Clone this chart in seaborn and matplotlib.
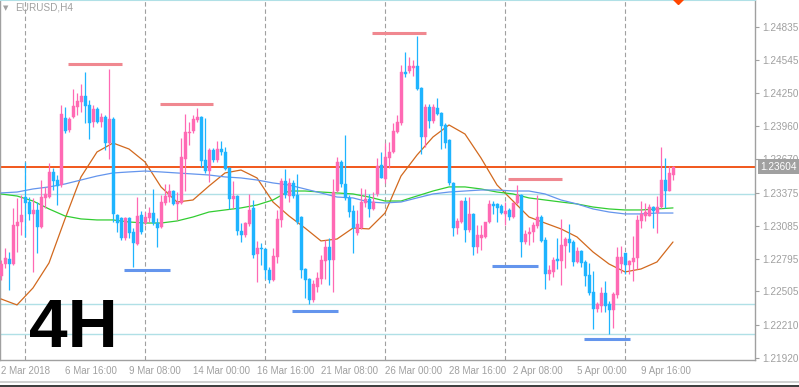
import numpy as np
import pandas as pd
import matplotlib
matplotlib.use("Agg")
import matplotlib.pyplot as plt
import matplotlib.transforms as mtransforms
from matplotlib.patches import Rectangle
import seaborn as sns

sns.set_style("white")
plt.rcParams["font.family"] = ["Liberation Sans", "DejaVu Sans"]

# EURUSD H4 bars, 2 Mar 2018 00:00 -> 10 Apr 2018
opens = [1.22641, 1.22747, 1.22791, 1.22747, 1.23082, 1.23117, 1.23337, 1.23293, 1.23188, 1.23223,
         1.23073, 1.23329, 1.23337, 1.23558, 1.23487, 1.23443, 1.24033, 1.23928, 1.24042, 1.24130,
         1.24174, 1.24227, 1.24148, 1.23998, 1.24113, 1.23998, 1.24042, 1.23813, 1.24025, 1.23179,
         1.23152, 1.22976, 1.23152, 1.23029, 1.22923, 1.23179, 1.23108, 1.23152, 1.23196, 1.23108,
         1.23073, 1.23285, 1.23337, 1.23390, 1.23276, 1.23285, 1.23672, 1.23901, 1.23919, 1.24016,
         1.24042, 1.23663, 1.23566, 1.23752, 1.23663, 1.23760, 1.23734, 1.23593, 1.23320, 1.23346,
         1.23038, 1.23003, 1.23100, 1.23241, 1.22835, 1.22888, 1.22879, 1.22694, 1.22606, 1.22809,
         1.23135, 1.23478, 1.23346, 1.23461, 1.23355, 1.23161, 1.22703, 1.22615, 1.22430, 1.22545,
         1.22615, 1.22774, 1.22897, 1.22782, 1.23390, 1.23646, 1.23452, 1.23329, 1.23214, 1.23020,
         1.23064, 1.23285, 1.23320, 1.23232, 1.23364, 1.23619, 1.23496, 1.23681, 1.23734, 1.23910,
         1.23989, 1.24439, 1.24447, 1.24474, 1.24492, 1.24298, 1.23866, 1.24130, 1.24007, 1.24122,
         1.24077, 1.23972, 1.23840, 1.23461, 1.23064, 1.23117, 1.23302, 1.23047, 1.23188, 1.22897,
         1.22976, 1.22985, 1.23117, 1.23276, 1.23276, 1.23258, 1.23188, 1.23223, 1.23161, 1.23285,
         1.23355, 1.22941, 1.23011, 1.23029, 1.23082, 1.23161, 1.22959, 1.22659, 1.22677, 1.22791,
         1.22774, 1.22906, 1.22968, 1.22941, 1.22765, 1.22862, 1.22765, 1.22650, 1.22501, 1.22351,
         1.22377, 1.22492, 1.22395, 1.22342, 1.22474, 1.22747, 1.22844, 1.22738, 1.22765, 1.22800,
         1.23126, 1.23170, 1.23170, 1.23249, 1.23196, 1.23249, 1.23487, 1.23390, 1.23531]
highs = [1.22782, 1.22888, 1.22853, 1.23241, 1.23329, 1.23355, 1.23646, 1.23337, 1.23329, 1.23293,
         1.23487, 1.23426, 1.23637, 1.23593, 1.23531, 1.24148, 1.24130, 1.24042, 1.24289, 1.24254,
         1.24333, 1.24439, 1.24192, 1.24148, 1.24130, 1.24077, 1.24060, 1.24465, 1.24042, 1.23188,
         1.23161, 1.23161, 1.23161, 1.23064, 1.23337, 1.23214, 1.23205, 1.23249, 1.23408, 1.23152,
         1.23355, 1.23452, 1.23452, 1.23399, 1.23381, 1.23857, 1.24069, 1.23998, 1.24060, 1.24122,
         1.24051, 1.24033, 1.23769, 1.23769, 1.23831, 1.23831, 1.23778, 1.23602, 1.23478, 1.23355,
         1.23108, 1.23117, 1.23364, 1.23311, 1.22950, 1.22932, 1.22888, 1.22721, 1.22888, 1.23223,
         1.23505, 1.23584, 1.23505, 1.23487, 1.23540, 1.23170, 1.22712, 1.22624, 1.22606, 1.22677,
         1.22826, 1.22959, 1.22976, 1.23496, 1.23690, 1.23663, 1.23884, 1.23355, 1.23267, 1.23223,
         1.23417, 1.23408, 1.23364, 1.23381, 1.23681, 1.23734, 1.23813, 1.23822, 1.23989, 1.24060,
         1.24500, 1.24615, 1.24571, 1.24544, 1.24756, 1.24307, 1.24157, 1.24157, 1.24157, 1.24210,
         1.24086, 1.23989, 1.23848, 1.23470, 1.23152, 1.23311, 1.23337, 1.23337, 1.23196, 1.23091,
         1.23091, 1.23117, 1.23311, 1.23302, 1.23285, 1.23276, 1.23293, 1.23241, 1.23293, 1.23443,
         1.23364, 1.23047, 1.23073, 1.23117, 1.23355, 1.23179, 1.22985, 1.22738, 1.22809, 1.22976,
         1.23144, 1.22985, 1.23100, 1.22959, 1.22897, 1.22871, 1.22782, 1.22756, 1.22685, 1.22412,
         1.22545, 1.22597, 1.22421, 1.22501, 1.22897, 1.22906, 1.22844, 1.22782, 1.22994, 1.23179,
         1.23302, 1.23285, 1.23276, 1.23258, 1.23346, 1.23778, 1.23681, 1.23611, 1.23611]
lows = [1.22606, 1.22712, 1.22518, 1.22738, 1.22853, 1.23003, 1.22985, 1.23135, 1.22677, 1.22844,
        1.23064, 1.23241, 1.23329, 1.23399, 1.23267, 1.23426, 1.23901, 1.23910, 1.24033, 1.24060,
        1.24086, 1.23989, 1.23848, 1.23954, 1.23989, 1.23954, 1.23752, 1.23672, 1.23117, 1.23029,
        1.22959, 1.22959, 1.22976, 1.22721, 1.22915, 1.23011, 1.23091, 1.23117, 1.23091, 1.22897,
        1.23064, 1.23267, 1.23293, 1.23267, 1.23135, 1.23276, 1.23390, 1.23796, 1.23901, 1.23998,
        1.23602, 1.23549, 1.23470, 1.23646, 1.23646, 1.23707, 1.23575, 1.23232, 1.23241, 1.23003,
        1.22941, 1.22985, 1.23082, 1.22800, 1.22589, 1.22738, 1.22615, 1.22580, 1.22597, 1.22756,
        1.23073, 1.23329, 1.23293, 1.23329, 1.23100, 1.22624, 1.22448, 1.22395, 1.22412, 1.22501,
        1.22571, 1.22615, 1.22562, 1.22501, 1.23381, 1.23426, 1.23311, 1.23161, 1.22844, 1.23003,
        1.23056, 1.23249, 1.23161, 1.23223, 1.23346, 1.23505, 1.23461, 1.23593, 1.23725, 1.23901,
        1.23972, 1.24395, 1.24430, 1.24403, 1.24280, 1.23716, 1.23778, 1.23945, 1.23989, 1.24060,
        1.23760, 1.23769, 1.23443, 1.22994, 1.23011, 1.23108, 1.22941, 1.23029, 1.22826, 1.22844,
        1.22871, 1.22976, 1.23108, 1.23188, 1.23117, 1.23188, 1.23091, 1.23135, 1.23152, 1.23276,
        1.22809, 1.22923, 1.22915, 1.22941, 1.23064, 1.22941, 1.22527, 1.22606, 1.22633, 1.22703,
        1.22562, 1.22712, 1.22853, 1.22730, 1.22756, 1.22721, 1.22553, 1.22474, 1.22175, 1.22324,
        1.22324, 1.22324, 1.22130, 1.22183, 1.22448, 1.22668, 1.22659, 1.22659, 1.22597, 1.22703,
        1.23064, 1.23126, 1.23170, 1.23064, 1.23020, 1.23241, 1.23241, 1.23390, 1.23487]
closes = [1.22747, 1.22800, 1.22747, 1.23091, 1.23117, 1.23179, 1.23285, 1.23188, 1.23223, 1.23073,
          1.23337, 1.23364, 1.23558, 1.23478, 1.23434, 1.24069, 1.23919, 1.24025, 1.24139, 1.24183,
          1.24227, 1.24139, 1.23989, 1.24113, 1.23998, 1.24042, 1.23813, 1.24025, 1.23188, 1.23108,
          1.22976, 1.23152, 1.23020, 1.22932, 1.23170, 1.23029, 1.23161, 1.23196, 1.23108, 1.23064,
          1.23293, 1.23346, 1.23390, 1.23276, 1.23293, 1.23690, 1.23910, 1.23910, 1.24025, 1.24042,
          1.23655, 1.23566, 1.23752, 1.23663, 1.23760, 1.23734, 1.23584, 1.23320, 1.23346, 1.23038,
          1.23003, 1.23108, 1.23223, 1.22826, 1.22888, 1.22879, 1.22694, 1.22606, 1.22818, 1.23144,
          1.23478, 1.23355, 1.23461, 1.23346, 1.23117, 1.22694, 1.22606, 1.22430, 1.22571, 1.22624,
          1.22782, 1.22897, 1.22782, 1.23381, 1.23646, 1.23452, 1.23329, 1.23205, 1.23064, 1.23100,
          1.23293, 1.23320, 1.23232, 1.23293, 1.23611, 1.23505, 1.23690, 1.23734, 1.23919, 1.23998,
          1.24439, 1.24421, 1.24492, 1.24492, 1.24289, 1.23866, 1.24130, 1.24007, 1.24130, 1.24069,
          1.23963, 1.23813, 1.23461, 1.23064, 1.23126, 1.23302, 1.23047, 1.23188, 1.22897, 1.23003,
          1.23003, 1.23117, 1.23276, 1.23258, 1.23241, 1.23196, 1.23214, 1.23161, 1.23285, 1.23355,
          1.22941, 1.23011, 1.23029, 1.23091, 1.23161, 1.22950, 1.22659, 1.22694, 1.22782, 1.22774,
          1.22915, 1.22968, 1.22932, 1.22765, 1.22862, 1.22756, 1.22641, 1.22492, 1.22351, 1.22395,
          1.22492, 1.22377, 1.22342, 1.22483, 1.22809, 1.22809, 1.22738, 1.22774, 1.22800, 1.23135,
          1.23188, 1.23205, 1.23249, 1.23214, 1.23249, 1.23487, 1.23390, 1.23549, 1.23602]

# moving averages read every 4 bars
ma_bars = list(range(0, 169, 4))
ma_orange = [1.22439, 1.22386, 1.22536, 1.22756, 1.23144, 1.23514, 1.23734, 1.23813, 1.23760, 1.23646,
             1.23426, 1.23293, 1.23311, 1.23434, 1.23549, 1.23575, 1.23505, 1.23293, 1.23170, 1.23064,
             1.22950, 1.22967, 1.23064, 1.23056, 1.23196, 1.23522, 1.23707, 1.23866, 1.23972, 1.23892,
             1.23681, 1.23443, 1.23302, 1.23161, 1.23108, 1.23056, 1.22985, 1.22853, 1.22747, 1.22677,
             1.22703, 1.22765, 1.22941]
ma_blue = [1.23373, 1.23381, 1.23408, 1.23426, 1.23452, 1.23487, 1.23522, 1.23549, 1.23558, 1.23566,
           1.23558, 1.23549, 1.23540, 1.23531, 1.23514, 1.23505, 1.23487, 1.23461, 1.23443, 1.23408,
           1.23373, 1.23337, 1.23329, 1.23293, 1.23285, 1.23293, 1.23329, 1.23364, 1.23381, 1.23390,
           1.23399, 1.23399, 1.23390, 1.23390, 1.23364, 1.23311, 1.23276, 1.23232, 1.23205, 1.23188,
           1.23188, 1.23196, 1.23196]
ma_green = [1.23364, 1.23346, 1.23302, 1.23232, 1.23170, 1.23144, 1.23135, 1.23135, 1.23117, 1.23108,
            1.23108, 1.23126, 1.23161, 1.23205, 1.23223, 1.23241, 1.23267, 1.23311, 1.23390, 1.23390,
            1.23381, 1.23373, 1.23364, 1.23337, 1.23302, 1.23302, 1.23346, 1.23390, 1.23426, 1.23426,
            1.23408, 1.23381, 1.23364, 1.23329, 1.23311, 1.23293, 1.23276, 1.23249, 1.23232, 1.23223,
            1.23223, 1.23232, 1.23241]

# axis labels
time_ticks = [0, 16, 32, 48, 64, 80, 96, 112, 128, 144, 160]
time_labels = ["2 Mar 2018", "6 Mar 16:00", "9 Mar 08:00", "14 Mar 00:00", "16 Mar 16:00",
               "21 Mar 08:00", "26 Mar 00:00", "28 Mar 16:00", "2 Apr 08:00", "5 Apr 00:00",
               "9 Apr 16:00"]
week_starts = [6, 36, 66, 96, 126, 156]
price_ticks = [1.24835, 1.24545, 1.24250, 1.23960, 1.23670, 1.23375,
               1.23085, 1.22795, 1.22505, 1.22210, 1.21920]

# drawn objects
cyan_levels = [1.23364, 1.22395, 1.22130]
last_price = 1.23604
res_levels = [1.24509, 1.24157, 1.24782, 1.23496]
res_from = [16.75, 39.75, 92.75, 126.75]
res_to = [30.25, 53.0, 106.25, 140.25]
sup_levels = [1.22694, 1.22333, 1.22730, 1.22086]
sup_from = [30.75, 72.75, 122.75, 145.75]
sup_to = [42.25, 84.25, 134.25, 157.25]
arrow_bar = 169.25
price_top = 1.25073
price_bottom = 1.21901

df = pd.DataFrame({"open": opens, "high": highs, "low": lows, "close": closes})
df["bar"] = np.arange(len(df))
df["up"] = df["close"] >= df["open"]

W, H = 799, 387
fig = plt.figure(figsize=(W / 100, H / 100), dpi=100)
ax = fig.add_axes([0, 27 / H, 755 / W, 360 / H])

bull = "#FF69B4"
bear = "#1EB4FF"
grey = "#A0A0A0"

# background objects
for w in week_starts:
    ax.axvline(w, color=grey, lw=0.8, ls=(0, (4, 2.5)), zorder=1)
for lv in cyan_levels:
    ax.axhline(lv, color="#B0E0E6", lw=1.0, zorder=1)
ax.axhline(last_price, color="#F04A0A", lw=1.3, zorder=2)
ax.hlines(res_levels, res_from, res_to, color="#F08890", lw=2.2, zorder=2)
ax.hlines(sup_levels, sup_from, sup_to, color="#6495ED", lw=2.2, zorder=2)

# moving averages
sns.lineplot(x=ma_bars, y=ma_orange, ax=ax, color="#D2691E", lw=0.9, zorder=3)
sns.lineplot(x=ma_bars, y=ma_green, ax=ax, color="#32CD32", lw=0.9, zorder=3)
sns.lineplot(x=ma_bars, y=ma_blue, ax=ax, color="#6495ED", lw=0.9, zorder=3)

# candles
for up, col in [(True, bull), (False, bear)]:
    d = df[df["up"] == up]
    ax.vlines(d["bar"], d["low"], d["high"], color=col, lw=0.9, zorder=4)
    body = (d["close"] - d["open"]).abs().clip(lower=0.00006)
    ax.bar(d["bar"], body, bottom=np.minimum(d["open"], d["close"]), width=0.75,
           color=col, edgecolor=col, lw=0.3, zorder=5)

ax.plot([arrow_bar], [price_top + 0.00005], marker="D", ms=4.6, color="#FF4500", zorder=6)

ax.set_xlim(-0.25, 188.5)
ax.set_ylim(price_bottom, price_top)
ax.set_xlabel("")
ax.set_ylabel("")

ax.yaxis.tick_right()
ax.set_yticks(price_ticks)
ax.set_yticklabels([f"{p:.5f}" for p in price_ticks])
ax.tick_params(axis="y", direction="out", length=3, width=0.8, color=grey,
               labelcolor=grey, labelsize=7.2, pad=2)
ax.set_xticks(time_ticks)
ax.set_xticklabels(time_labels, ha="left")
ax.tick_params(axis="x", direction="out", length=2.5, width=0.8, color=grey,
               labelcolor=grey, labelsize=7.0, pad=1.5)

for s in ["left", "right", "bottom"]:
    ax.spines[s].set_color(grey)
    ax.spines[s].set_linewidth(1.0)
ax.spines["top"].set_color("#B0E0E6")
ax.spines["top"].set_linewidth(1.5)

# last price tag
tr = mtransforms.blended_transform_factory(ax.transAxes, ax.transData)
ax.text(1.0075, last_price, f"{last_price:.5f}", transform=tr, ha="left", va="center",
        color="white", fontsize=7.2, zorder=10, clip_on=False,
        bbox=dict(boxstyle="square,pad=0.25", fc=grey, ec="none"))

# labels on the chart
fig.text(29 / W, 1 - 347 / H, "4H", fontsize=50, fontweight="bold", color="black",
         ha="left", va="baseline")
fig.text(15 / W, 1 - 11 / H, "EURUSD,H4", fontsize=7.2, color=grey, ha="left", va="baseline")
fig.text(3 / W, 1 - 10 / H, "\u25bc", fontsize=5, color=grey, ha="left", va="baseline",
         family="DejaVu Sans")

# window frame at the bottom
fig.add_artist(Rectangle((0, 1 - 382.5 / H), 1, 1.8 / H, transform=fig.transFigure,
                         color="#D0D0D0", lw=0))
fig.add_artist(Rectangle((0, 0), 1, 2.5 / H, transform=fig.transFigure,
                         color="#404040", lw=0))

fig.savefig("out.png", dpi=100)
plt.close(fig)
